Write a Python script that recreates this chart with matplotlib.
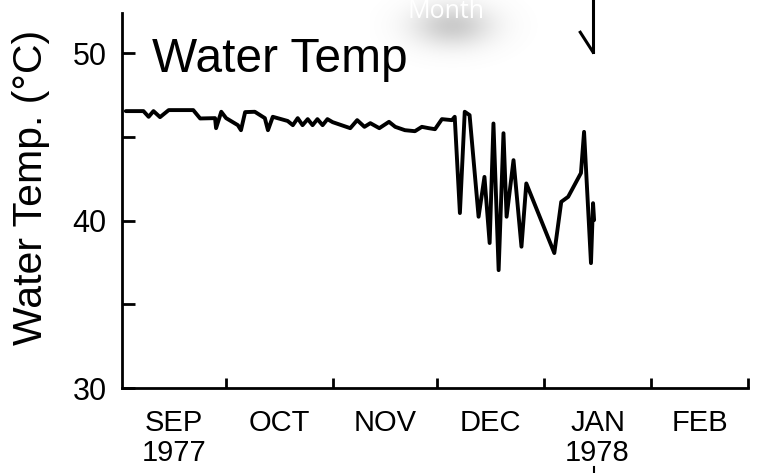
import numpy as np
import matplotlib
matplotlib.use("Agg")
import matplotlib.pyplot as plt
from matplotlib import font_manager as fm

# ------------ record data ---------------
START = np.datetime64("1977-09-01")
# day of record (days since 1 Sep 1977) and water temperature (deg C)
day = [1.1, 6.2, 7.7, 9.1, 11.0, 13.5, 20.6, 22.6, 26.9, 27.2, 28.7, 30.1,
       33.5, 34.4, 35.6, 38.4, 41.3, 42.2, 43.6, 47.9, 49.4, 50.8, 52.2, 53.7,
       55.1, 56.5, 58.0, 59.4, 60.9, 66.0, 68.0, 70.1, 71.8, 74.4, 77.2, 79.0,
       81.8, 84.7, 86.7, 88.7, 90.5, 92.5, 95.4, 96.2, 97.7, 99.1, 100.5, 103.1,
       104.8, 106.3, 107.4, 108.9, 110.3, 111.2, 113.2, 115.5, 116.9, 125.0,
       127.0, 129.0, 132.7, 133.6, 135.6, 136.2, 136.5]
temp = [46.54, 46.54, 46.20, 46.54, 46.18, 46.60, 46.60, 46.10, 46.12, 45.52,
        46.50, 46.12, 45.70, 45.40, 46.48, 46.50, 46.12, 45.40, 46.20, 45.95,
        45.70, 46.12, 45.70, 46.06, 45.70, 46.06, 45.70, 46.06, 45.88, 45.52,
        46.00, 45.60, 45.82, 45.52, 45.90, 45.60, 45.40, 45.34, 45.60, 45.52,
        45.46, 46.06, 46.00, 46.20, 40.45, 46.50, 46.30, 40.23, 42.61, 38.66,
        45.80, 37.04, 45.22, 40.23, 43.61, 38.44, 42.22, 38.06, 41.12, 41.42,
        42.84, 45.30, 37.46, 41.04, 40.03]
month_names = ["SEP\n1977", "OCT", "NOV", "DEC", "JAN\n1978", "FEB"]
arrow_day = 136.2   # event marker above the trace
# -----------------------------------------

months = np.arange("1977-09", "1978-04", dtype="datetime64[M]").astype("datetime64[D]")
month_start = (months - START).astype(float)          # 0, 30, 61, ... 181
month_mid = (month_start[:-1] + month_start[1:]) / 2


def pick(*names):
    for n in names:
        try:
            fm.findfont(n, fallback_to_default=False)
            return n
        except ValueError:
            continue
    return "DejaVu Sans"


sans = pick("Liberation Sans", "Arial", "DejaVu Sans")
narrow = pick("Liberation Sans Narrow", "Liberation Sans")
plt.rcParams["font.family"] = sans

W, H = 766, 473
fig = plt.figure(figsize=(W / 100, H / 100), dpi=100)
ax = fig.add_axes([122 / W, 85 / H, 626 / W, 375 / H])

ax.plot(day, temp, color="black", lw=2.8, solid_joinstyle="round",
        solid_capstyle="round")

ax.set_xlim(0, month_start[-1])
ax.set_ylim(30, 52.4)

for s in ("top", "right"):
    ax.spines[s].set_visible(False)
for s in ("left", "bottom"):
    ax.spines[s].set_linewidth(2.0)

# month boundaries as ticks, names centred in each month
ax.set_xticks(month_start[1:])
ax.set_xticklabels([])
ax.set_xticks(month_mid, minor=True)
ax.set_xticklabels(month_names, minor=True, fontsize=21, linespacing=1.12)
ax.tick_params(axis="x", which="major", direction="in", length=7, width=2.0)
ax.tick_params(axis="x", which="minor", length=0, pad=15)

ax.set_yticks([30, 40, 50])
ax.set_yticks([35, 45], minor=True)
ax.tick_params(axis="y", which="both", direction="in", length=9, width=2.0, pad=11)
for lab in ax.get_yticklabels():
    lab.set_fontfamily(narrow)
    lab.set_fontsize(22)

fig.text(31 / W, 0.604, "Water Temp. (°C)", rotation=90, ha="center",
         va="center", fontsize=29.5)
fig.text(152 / W, (H - 72) / H, "Water Temp", ha="left",
         va="baseline", fontsize=34.5)

# event arrow coming down from above the panel
ax.plot([arrow_day, arrow_day], [53.3, 50.06], color="black", lw=2.2,
        clip_on=False)
ax.plot([arrow_day - 3.7, arrow_day], [51.25, 50.06], color="black", lw=2.2,
        clip_on=False)
ax.plot([arrow_day + 0.3, arrow_day + 0.3], [25.3, 24.8], color="black",
        lw=1.5, clip_on=False)

# soft grey glow under the floating "Month" caption
gx0, gx1, gy0, gy1 = 370, 540, 0, 70
glow_ax = fig.add_axes([gx0 / W, (H - gy1) / H, (gx1 - gx0) / W, (gy1 - gy0) / H])
gx, gy = np.meshgrid(np.arange(gx0, gx1), np.arange(gy0, gy1))
g = np.exp(-((gx - 452) ** 2 / (2 * 28 ** 2) + (gy - 25) ** 2 / (2 * 15 ** 2)))
rgba = np.zeros(gx.shape + (4,))
rgba[..., :3] = 0.5
rgba[..., 3] = 0.4 * g
glow_ax.imshow(rgba, extent=(0, 1, 0, 1), aspect="auto", interpolation="bilinear")
glow_ax.set_axis_off()

fig.text(446 / W, (H - 12) / H, "Month", ha="center", va="center",
         fontsize=18, color="white", family=pick("Open Sans", "Noto Sans"),
         zorder=5)

fig.savefig("out.png", dpi=100, facecolor="white")
